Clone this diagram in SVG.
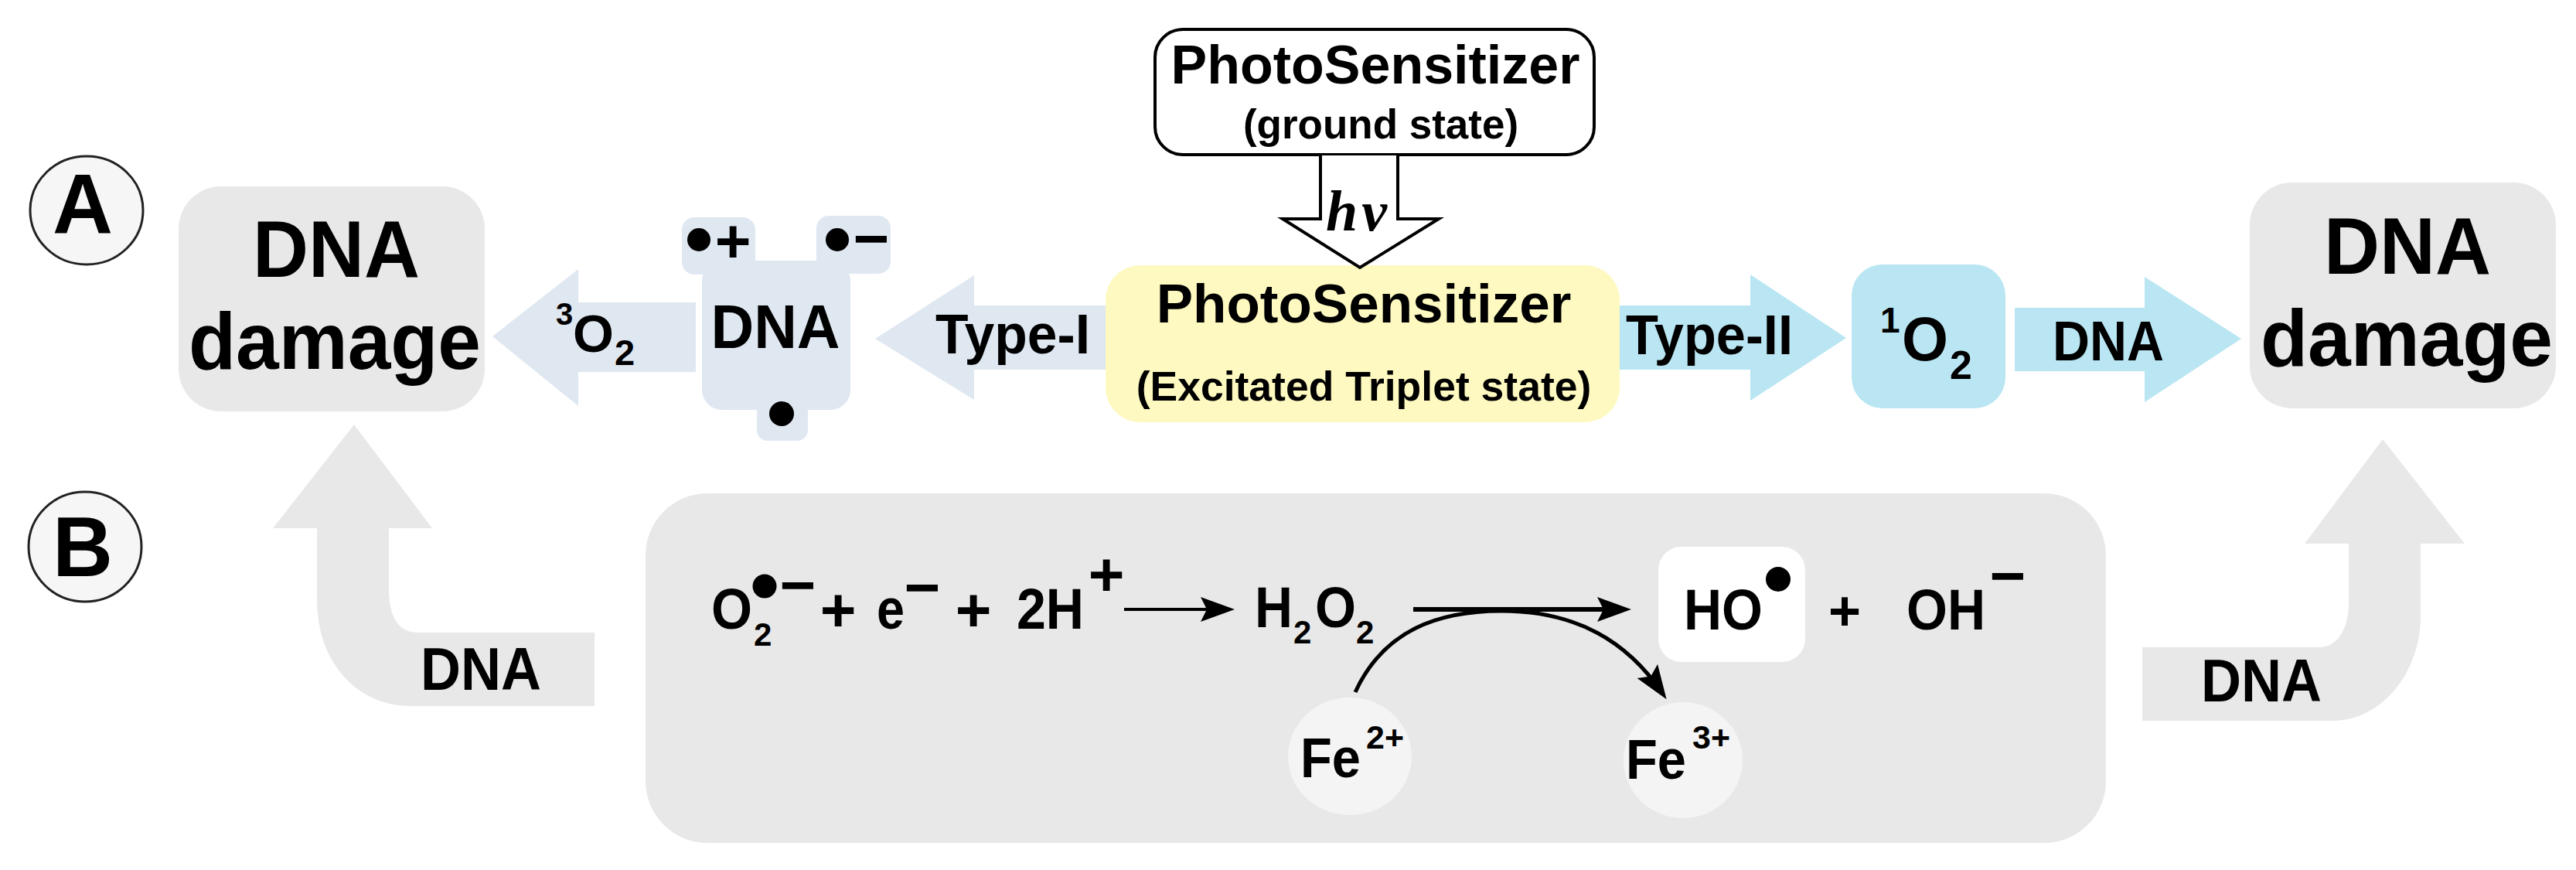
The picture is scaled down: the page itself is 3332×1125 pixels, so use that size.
<svg xmlns="http://www.w3.org/2000/svg" width="3332" height="1125" viewBox="0 0 3332 1125">
<style>
text{font-family:"Liberation Sans",Arial,sans-serif;font-weight:700;fill:#000}
.m{text-anchor:middle}
.big{font-size:104px}
.eq{font-size:74px}
.sub{font-size:42px}
.sign{font-size:80px}
.hv{font-family:"Liberation Serif","Times New Roman",serif;font-style:italic;font-size:74px;letter-spacing:5px}
.gray{fill:#e8e8e8}
.pale{fill:#dfe7f1}
.cyan{fill:#b9e6f2}
.ion{fill:#f4f4f4}
.mark{fill:#f6f6f6;stroke:#222;stroke-width:3}
.line{fill:none;stroke:#000;stroke-width:5;marker-end:url(#head)}
</style>
<defs>
<marker id="head" markerUnits="userSpaceOnUse" markerWidth="46" markerHeight="34" refX="34" refY="17" orient="auto">
<path d="M0 1L44 17L0 33L8 17Z" fill="#000"/>
</marker>
</defs>
<rect width="3332" height="1125" fill="#fff"/>

<g id="label-a"><ellipse class="mark" cx="112" cy="272" rx="73" ry="70"/><text x="107" y="301" class="m" font-size="110" textLength="78" lengthAdjust="spacingAndGlyphs">A</text></g>
<g id="label-b"><ellipse class="mark" cx="110" cy="707" rx="73" ry="71"/><text x="107" y="745" class="m" font-size="110" textLength="78" lengthAdjust="spacingAndGlyphs">B</text></g>

<g id="damage-left"><rect class="gray" x="231" y="241" width="396" height="291" rx="55"/>
<text x="435" y="358" class="m big" textLength="216" lengthAdjust="spacingAndGlyphs">DNA</text><text x="433" y="477" class="m big" textLength="378" lengthAdjust="spacingAndGlyphs">damage</text></g>

<g id="dna-radical">
<rect class="pale" x="882" y="281" width="95" height="74" rx="16"/>
<rect class="pale" x="1056" y="279" width="96" height="75" rx="16"/>
<rect class="pale" x="979" y="500" width="66" height="70" rx="14"/>
<rect class="pale" x="908" y="337" width="192" height="193" rx="26"/>
<circle cx="904" cy="310" r="15"/><text x="948" y="339" class="m sign">+</text>
<circle cx="1083" cy="310" r="15"/><text x="1127" y="336" class="m sign">−</text>
<circle cx="1011" cy="535" r="16"/>
<text x="1003" y="450" class="m" font-size="80" textLength="167" lengthAdjust="spacingAndGlyphs">DNA</text></g>

<g id="ps-excited"><rect x="1430" y="343" width="665" height="203" rx="45" fill="#fdf9c0"/>
<text x="1764" y="417" class="m" font-size="71">PhotoSensitizer</text>
<text x="1764" y="518" class="m" font-size="53.5">(Excitated Triplet state)</text></g>

<g id="ps-ground"><rect x="1494" y="38" width="568" height="162" rx="36" fill="#fff" stroke="#000" stroke-width="4"/>
<text x="1779" y="108" class="m" font-size="70">PhotoSensitizer</text>
<text x="1786" y="179" class="m" font-size="53">(ground state)</text></g>

<g id="singlet-oxygen"><rect class="cyan" x="2395" y="342" width="199" height="186" rx="40"/>
<text x="2432" y="430" font-size="46">1</text><text x="2460" y="466" font-size="80" textLength="60" lengthAdjust="spacingAndGlyphs">O</text><text x="2522" y="490" font-size="52">2</text></g>

<g id="damage-right"><rect class="gray" x="2910" y="236" width="396" height="292" rx="55"/>
<text x="3114" y="354" class="m big" textLength="216" lengthAdjust="spacingAndGlyphs">DNA</text><text x="3113" y="473" class="m big" textLength="378" lengthAdjust="spacingAndGlyphs">damage</text></g>

<g id="fenton">
<rect class="gray" x="835" y="638" width="1889" height="452" rx="80"/>
<rect x="2145" y="707" width="190" height="149" rx="30" fill="#fff"/>
<text x="920" y="813" class="eq" textLength="53" lengthAdjust="spacingAndGlyphs">O</text><text x="975" y="835" class="sub">2</text>
<circle cx="989" cy="758" r="15.5"/><text x="1032" y="784" class="m sign">−</text>
<text x="1084" y="816" class="m sign">+</text>
<text x="1134" y="813" class="eq" textLength="36" lengthAdjust="spacingAndGlyphs">e</text><text x="1193" y="787" class="m sign">−</text>
<text x="1259" y="816" class="m sign">+</text>
<text x="1315" y="813" class="eq" textLength="87" lengthAdjust="spacingAndGlyphs">2H</text><text x="1431" y="770" class="m sign">+</text>
<text x="1623" y="811" class="eq" textLength="49" lengthAdjust="spacingAndGlyphs">H</text><text x="1673" y="832" class="sub">2</text>
<text x="1701" y="811" class="eq" textLength="53" lengthAdjust="spacingAndGlyphs">O</text><text x="1754" y="832" class="sub">2</text>
<text x="2178" y="814" class="eq" textLength="102" lengthAdjust="spacingAndGlyphs">HO</text><circle cx="2300" cy="749" r="16"/>
<text x="2386" y="815" class="m" font-size="72">+</text>
<text x="2466" y="814" class="eq" textLength="102" lengthAdjust="spacingAndGlyphs">OH</text><text x="2597" y="772" class="m sign">−</text>
</g>

<g id="fe2"><ellipse class="ion" cx="1746" cy="978" rx="80" ry="76"/>
<text x="1682" y="1005" font-size="72" textLength="78" lengthAdjust="spacingAndGlyphs">Fe</text><text x="1767" y="968" font-size="42" textLength="49" lengthAdjust="spacingAndGlyphs">2+</text></g>
<g id="fe3"><ellipse class="ion" cx="2177" cy="983" rx="77" ry="75"/>
<text x="2103" y="1007" font-size="72" textLength="78" lengthAdjust="spacingAndGlyphs">Fe</text><text x="2189" y="968" font-size="42" textLength="49" lengthAdjust="spacingAndGlyphs">3+</text></g>

<g id="connectors">
<path class="pale" d="M637 435L748 348V391H900V481H748V525Z"/>
<text x="719" y="420" font-size="40">3</text><text x="741" y="455" font-size="68">O</text><text x="795" y="472" font-size="47">2</text>
<path class="pale" d="M1132 438L1260 356V395H1430V478H1260V517Z"/>
<text x="1210" y="457" font-size="73" textLength="200" lengthAdjust="spacingAndGlyphs">Type-I</text>
<path class="cyan" d="M2095 395H2264V355L2388 437L2264 518V478H2095Z"/>
<text x="2103" y="458" font-size="73" textLength="216" lengthAdjust="spacingAndGlyphs">Type-II</text>
<path class="cyan" d="M2606 398H2774V358L2899 438L2774 520V480H2606Z"/>
<text x="2727" y="466" class="m" font-size="72" textLength="144" lengthAdjust="spacingAndGlyphs">DNA</text>
<path d="M1708 201V283H1659L1759 346L1861 283H1808V201" fill="#fff" stroke="#000" stroke-width="4"/>
<text x="1715" y="298" class="hv">hν</text>
<path class="gray" d="M458 549L559 683H503V767Q505 818 541 818H769V913H531C465 913 410 860 410 775V683H353Z"/>
<text x="622" y="892" class="m" font-size="78" textLength="156" lengthAdjust="spacingAndGlyphs">DNA</text>
<path class="gray" d="M3082 568L3188 703H3131V797C3131 870 3080 932 3018 932H2771V837H3000C3025 837 3038 810 3038 780V703H2981Z"/>
<text x="2925" y="907" class="m" font-size="78" textLength="156" lengthAdjust="spacingAndGlyphs">DNA</text>
<path class="line" style="stroke-width:4" d="M1454 788H1587"/>
<path class="line" style="stroke-width:6" d="M1828 788H2100"/>
<path class="line" d="M1753 895C1790 815 1860 790 1942 790C2040 790 2105 830 2150 896"/>
</g>
</svg>
